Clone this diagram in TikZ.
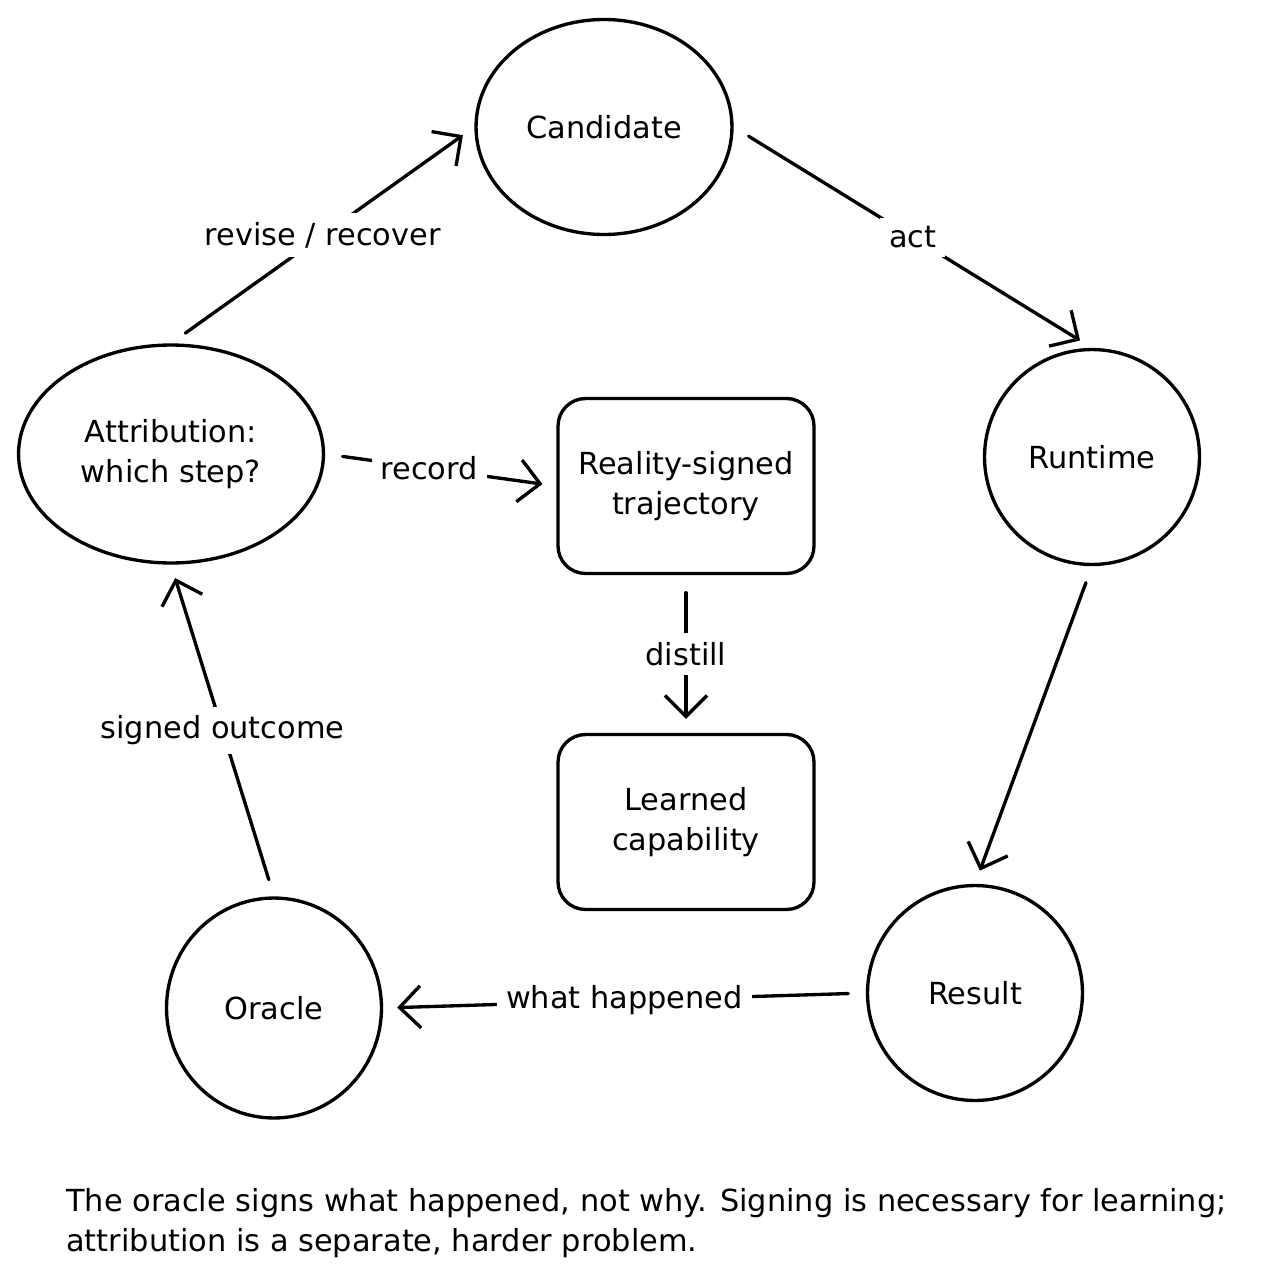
\documentclass[tikz,border=0pt]{standalone}
\usepackage{fontspec}
\setmainfont{DejaVu Sans}
\usetikzlibrary{arrows.meta,shapes.geometric}
\begin{document}
\begin{tikzpicture}[x=0.02cm,y=-0.02cm,
  every node/.style={font=\fontsize{17.3}{22.7}\selectfont},
  state/.style={ellipse, draw, line width=1.9pt, inner sep=0pt, align=center},
  box/.style={draw, rounded corners=0.55cm, line width=1.9pt, minimum width=5.12cm, minimum height=3.5cm, align=center, inner sep=0pt},
  arr/.style={line width=1.9pt, line cap=round, -{Straight Barb[length=12pt, width=24pt, line width=1.9pt]}, shorten <=10pt, shorten >=8pt},
  lbl/.style={fill=white, inner sep=5pt}
]
\useasboundingbox (0,0) rectangle (1267,1281);
\node[state, minimum width=5.12cm, minimum height=4.3cm] (cand) at (604,127) {Candidate};
\node[state, minimum width=4.3cm, minimum height=4.3cm] (run) at (1092,457) {Runtime};
\node[state, minimum width=4.3cm, minimum height=4.3cm] (res) at (975,993) {Result};
\node[state, minimum width=4.3cm, minimum height=4.4cm] (ora) at (274,1008) {Oracle};
\node[state, minimum width=6.1cm, minimum height=4.36cm] (att) at (171,454) {Attribution:\\which step?};
\node[box] (traj) at (686,486) {Reality-signed\\trajectory};
\node[box] (learn) at (686,822) {Learned\\capability};

\draw[arr] (att.north) -- node[lbl]{revise / recover} (cand.west);
\draw[arr] (cand.east) -- node[lbl]{act} (run.north);
\draw[arr] (run.south) -- (res.north);
\draw[arr] (res.west) -- node[lbl]{what happened} (ora.east);
\draw[arr] (ora.north) -- node[lbl]{signed outcome} (att.south);
\draw[arr] (att.east) -- node[lbl, pos=0.45]{record} (traj.west);
\draw[arr] (traj.south) -- node[lbl]{distill} (learn.north);

\node[anchor=base west, align=left, inner sep=0pt] (caption) at (66,1251)
  {The oracle signs what happened, not why. Signing is necessary for learning;\\attribution is a separate, harder problem.};
\end{tikzpicture}
\end{document}
